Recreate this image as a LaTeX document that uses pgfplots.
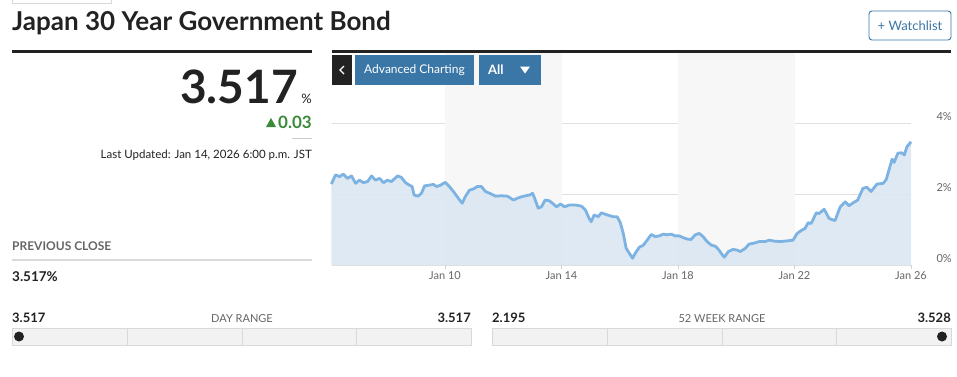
\documentclass[border=0pt]{standalone}
\usepackage{pgfplots}
\pgfplotsset{compat=1.18}
\usepackage{pgfplotstable}
\usepackage{fontspec}
\setmainfont{Lato}
\definecolor{btnblue}{RGB}{58,118,166}
\definecolor{linec}{RGB}{124,179,226}
\definecolor{areac}{RGB}{220,231,242}
\definecolor{bandc}{RGB}{247,247,247}
\definecolor{greenc}{RGB}{58,138,58}
\definecolor{darkt}{RGB}{34,34,34}
\definecolor{grayt}{RGB}{102,102,102}
\pgfplotstableread{
x y
6.10 2.28
6.24 2.54
6.38 2.49
6.51 2.56
6.65 2.44
6.79 2.51
6.93 2.30
7.06 2.39
7.20 2.32
7.34 2.35
7.48 2.51
7.61 2.39
7.75 2.44
7.89 2.32
8.02 2.39
8.16 2.35
8.37 2.51
8.50 2.47
8.64 2.32
8.78 2.25
8.87 2.21
8.94 1.97
9.08 1.94
9.19 2.02
9.30 2.23
9.46 2.25
9.60 2.27
9.71 2.21
9.85 2.25
10.01 2.33
10.15 2.21
10.29 2.07
10.43 1.91
10.59 1.74
10.70 1.93
10.84 2.11
10.97 2.14
11.11 2.21
11.25 2.21
11.39 2.07
11.59 2.00
11.73 1.94
11.93 1.95
12.14 1.94
12.35 1.83
12.48 1.88
12.62 1.92
12.76 1.95
12.90 1.97
13.01 2.02
13.10 1.83
13.20 1.60
13.31 1.64
13.44 1.83
13.58 1.81
13.72 1.72
13.83 1.64
13.97 1.72
14.10 1.64
14.27 1.69
14.47 1.69
14.68 1.66
14.82 1.55
14.95 1.31
15.02 1.22
15.12 1.41
15.26 1.36
15.37 1.47
15.57 1.41
15.78 1.36
15.91 1.36
16.02 1.19
16.12 0.89
16.22 0.47
16.33 0.33
16.44 0.19
16.53 0.33
16.67 0.50
16.81 0.56
16.94 0.70
17.08 0.86
17.22 0.80
17.36 0.82
17.49 0.87
17.63 0.85
17.77 0.87
17.90 0.82
18.04 0.82
18.18 0.77
18.32 0.73
18.45 0.72
18.59 0.85
18.73 0.89
18.86 0.80
19.00 0.66
19.14 0.56
19.28 0.53
19.41 0.42
19.48 0.33
19.59 0.22
19.73 0.38
19.89 0.44
20.03 0.42
20.14 0.38
20.31 0.47
20.44 0.59
20.58 0.61
20.79 0.66
20.99 0.66
21.13 0.70
21.33 0.67
21.54 0.66
21.75 0.68
21.95 0.70
22.09 0.89
22.23 0.97
22.36 1.03
22.47 1.19
22.57 1.17
22.75 1.47
22.84 1.45
23.02 1.57
23.19 1.31
23.39 1.25
23.57 1.64
23.74 1.78
23.87 1.67
24.01 1.75
24.17 1.83
24.35 2.16
24.49 2.19
24.63 2.07
24.83 2.28
25.04 2.30
25.15 2.41
25.35 2.98
25.42 2.89
25.55 3.15
25.68 3.16
25.77 3.10
25.86 3.33
26.00 3.47
}\yields
\begin{document}
\begin{tikzpicture}
\useasboundingbox[fill=white] (0pt,0pt) rectangle (957pt,-376pt);
\begin{axis}[
  at={(332pt,-265pt)}, anchor=south west,
  scale only axis, width=579pt, height=213pt,
  xmin=6.12, xmax=26, ymin=0, ymax=6,
  axis line style={draw=none},
  xtick={10,14,18,22,26},
  xticklabels={Jan 10,Jan 14,Jan 18,Jan 22,Jan 26},
  xtick pos=lower, tick align=outside,
  major tick length=4pt,
  xtick style={draw=gray!35, line width=0.8pt},
  ytick={0,2,4}, yticklabels={0\%,2\%,4\%},
  ytick style={draw=none},
  yticklabel pos=right,
  ymajorgrids, grid style={draw=black!12, line width=1pt},
  yticklabel style={anchor=west, xshift=18pt, yshift=6pt, font=\fontsize{11}{12}\selectfont, text=grayt},
  xticklabel style={font=\fontsize{11}{12}\selectfont, text=grayt, yshift=1pt},
  /pgf/number format/assume math mode=true,
  clip=false,
  axis on top=false,
]
\addplot[draw=none, fill=bandc] coordinates {(10,0) (10,6) (14,6) (14,0)} -- cycle;
\addplot[draw=none, fill=bandc] coordinates {(18,0) (18,6) (22,6) (22,0)} -- cycle;
\addplot[draw=none, fill=areac, fill opacity=0.9] table[x=x,y=y] {\yields} \closedcycle;
\addplot[linec, line width=2.8pt, line join=round, no marks] table[x=x,y=y] {\yields};
\end{axis}
\begin{scope}[x=1pt,y=-1pt]
  % top-left remnant box
  \draw[black!15, line width=1pt] (12,-5) rectangle (111,3);
  % title
  \node[anchor=base west, inner sep=0, text=darkt] at (12,30) {\fontsize{26}{30}\selectfont\bfseries Japan 30 Year Government Bond};
  % watchlist button
  \draw[btnblue, line width=0.9pt, rounded corners=3pt] (869,11) rectangle (951,40);
  \node[text=btnblue, inner sep=0] at (910,26) {\fontsize{13}{15}\selectfont + Watchlist};
  % rules
  \fill[darkt] (12,49.5) rectangle (312,52.5);
  \fill[darkt] (332,49.5) rectangle (951,52.5);
  % buttons
  \fill[darkt] (332,55) rectangle (352,85);
  \draw[white, line width=1.2pt] (344,66) -- (340,70) -- (344,74);
  \fill[btnblue] (355,55) rectangle (474,85);
  \node[text=white, inner sep=0] at (414.5,70) {\fontsize{12}{14}\selectfont Advanced Charting};
  \fill[btnblue] (479,55) rectangle (541,85);
  \node[text=white, anchor=west, inner sep=0] at (488,70) {\fontsize{13}{15}\selectfont\bfseries All};
  \fill[white] (520,66.5) -- (530,66.5) -- (525,73.5) -- cycle;
  % price
  \node[anchor=base east, inner sep=0, text=darkt] at (298,103) {\fontsize{46}{50}\selectfont\bfseries 3.517};
  \node[anchor=base east, inner sep=0, text=darkt] at (312,103) {\fontsize{13}{15}\selectfont\%};
  \fill[greenc] (266,127) -- (276,127) -- (271,118) -- cycle;
  \node[anchor=base east, inner sep=0, text=greenc] at (312,128) {\fontsize{17}{19}\selectfont\bfseries 0.03};
  \draw[black!20, line width=1pt] (292,138) -- (312,138);
  \node[anchor=base east, inner sep=0, text=darkt] at (312,158) {\fontsize{11.5}{14}\selectfont Last Updated: Jan 14, 2026 6:00 p.m. JST};
  % previous close
  \node[anchor=base west, inner sep=0, text=grayt] at (12,250) {\fontsize{12}{14}\selectfont\bfseries PREVIOUS CLOSE};
  \draw[black!15, line width=1.5pt] (12,260) -- (312,260);
  \node[anchor=base west, inner sep=0, text=darkt] at (12,281) {\fontsize{13.5}{15}\selectfont\bfseries 3.517\%};
  % day range
  \node[anchor=base west, inner sep=0, text=darkt] at (12,322) {\fontsize{13}{15}\selectfont\bfseries 3.517};
  \node[anchor=base, inner sep=0, text=grayt] at (242,322) {\fontsize{11}{13}\selectfont DAY RANGE};
  \node[anchor=base east, inner sep=0, text=darkt] at (471,322) {\fontsize{13}{15}\selectfont\bfseries 3.517};
  \draw[black!15, fill=black!5, line width=1pt] (12,328) rectangle (471,345);
  \foreach \xx in {127,242,356} \draw[black!15, line width=1pt] (\xx,328) -- (\xx,345);
  \fill[darkt] (19,336.5) circle (5);
  % 52 week range
  \node[anchor=base west, inner sep=0, text=darkt] at (492,322) {\fontsize{13}{15}\selectfont\bfseries 2.195};
  \node[anchor=base, inner sep=0, text=grayt] at (722,322) {\fontsize{11}{13}\selectfont 52 WEEK RANGE};
  \node[anchor=base east, inner sep=0, text=darkt] at (951,322) {\fontsize{13}{15}\selectfont\bfseries 3.528};
  \draw[black!15, fill=black!5, line width=1pt] (492,328) rectangle (951,345);
  \foreach \xx in {607,722,836} \draw[black!15, line width=1pt] (\xx,328) -- (\xx,345);
  \fill[darkt] (942,336.5) circle (5);
\end{scope}
\end{tikzpicture}
\end{document}
